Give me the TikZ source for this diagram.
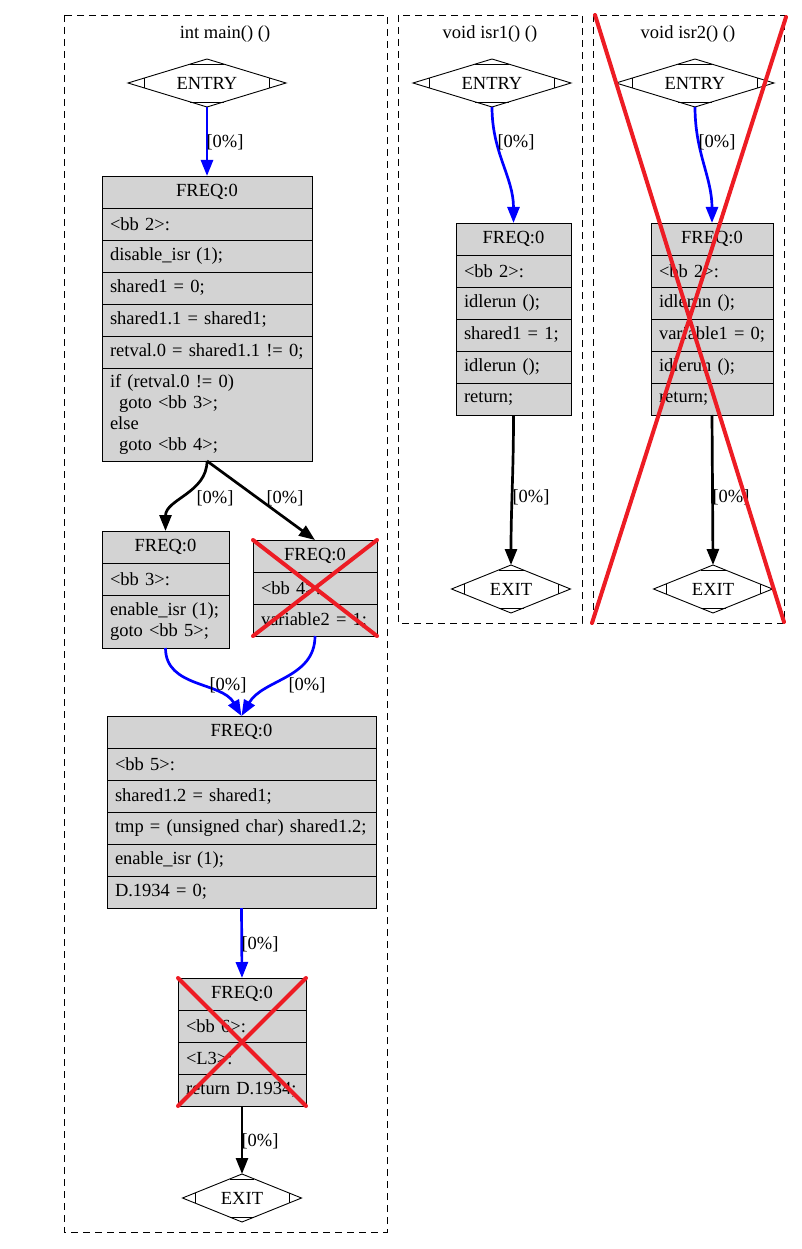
\documentclass[tikz,border=0pt]{standalone}
\usepackage{fontspec}
\setmainfont{Liberation Serif}
\usetikzlibrary{positioning,shapes.geometric,arrows.meta,calc}

\definecolor{lg}{RGB}{211,211,211}
\definecolor{bl}{RGB}{0,0,255}
\definecolor{rd}{RGB}{237,28,36}

\begin{document}
\begin{tikzpicture}[
        x=1pt, y=-1pt,
        font=\fontsize{18.5}{21.3}\selectfont,
        cluster/.style={draw, dash pattern=on 7pt off 5pt, line width=0.9pt},
        mdia/.style={diamond, aspect=3.3, draw, line width=0.9pt, fill=white, inner sep=0pt, outer sep=0pt, minimum width=#1, minimum height=48pt},
        head/.style={draw, line width=0.9pt, fill=lg, text width=#1, inner xsep=8pt, align=center, minimum height=32pt, outer sep=0pt},
        row/.style={draw, line width=0.9pt, fill=lg, text width=#1, inner xsep=8pt, align=left, minimum height=32pt, outer sep=0pt},
        bedge/.style={draw=bl, line width=2.7pt, -{Triangle[length=16pt,width=12pt]}},
        kedge/.style={draw=black, line width=2.7pt, -{Triangle[length=16pt,width=12pt]}},
        lbl/.style={inner sep=0pt},
        xout/.style={draw=rd, line width=4pt, line cap=round},
    ]
    \useasboundingbox (0,0) rectangle (801,1249);

    % clusters
    \draw[cluster] (64,15) rectangle (387,1232);
    \draw[cluster] (398,15) rectangle (582,623);
    \draw[cluster] (593,15) rectangle (784,623);
    \node (t1) at (225,34) {int main() ()};
    \node (t2) at (490,34) {void isr1() ()};
    \node (t3) at (688,34) {void isr2() ()};

    % int main
    \node[mdia=158pt] (e1) at (207,83) {ENTRY};

    \node[head=194pt] (b2a) at (207,192) {FREQ:0};
    \node[row=194pt, below=0pt of b2a] (b2b) {<bb 2>:};
    \node[row=194pt, below=0pt of b2b] (b2c) {disable\_isr (1);};
    \node[row=194pt, below=0pt of b2c] (b2d) {shared1 = 0;};
    \node[row=194pt, below=0pt of b2d] (b2e) {shared1.1 = shared1;};
    \node[row=194pt, below=0pt of b2e] (b2f) {retval.0 = shared1.1 != 0;};
    \node[row=194pt, below=0pt of b2f, minimum height=93pt] (b2g) {if (retval.0 != 0)\\\hspace*{9pt}goto <bb 3>;\\else\\\hspace*{9pt}goto <bb 4>;};

    \node[head=111pt] (b3a) at (165.5,547) {FREQ:0};
    \node[row=111pt, below=0pt of b3a] (b3b) {<bb 3>:};
    \node[row=111pt, below=0pt of b3b, minimum height=53pt] (b3c) {enable\_isr (1);\\goto <bb 5>;};

    \node[head=108pt] (b4a) at (315,556) {FREQ:0};
    \node[row=108pt, below=0pt of b4a] (b4b) {<bb 4>:};
    \node[row=108pt, below=0pt of b4b] (b4c) {variable2 = 1;};

    \node[head=253pt] (b5a) at (241.5,732) {FREQ:0};
    \node[row=253pt, below=0pt of b5a] (b5b) {<bb 5>:};
    \node[row=253pt, below=0pt of b5b] (b5c) {shared1.2 = shared1;};
    \node[row=253pt, below=0pt of b5c] (b5d) {tmp = (unsigned char) shared1.2;};
    \node[row=253pt, below=0pt of b5d] (b5e) {enable\_isr (1);};
    \node[row=253pt, below=0pt of b5e] (b5f) {D.1934 = 0;};

    \node[head=112pt] (b6a) at (242,994) {FREQ:0};
    \node[row=112pt, below=0pt of b6a] (b6b) {<bb 6>:};
    \node[row=112pt, below=0pt of b6b] (b6c) {<L3>:};
    \node[row=112pt, below=0pt of b6c] (b6d) {return D.1934;};

    \node[mdia=119pt] (x1) at (242,1198) {EXIT};

    % void isr1
    \node[mdia=158pt] (e2) at (492,83) {ENTRY};
    \node[head=99pt] (i1a) at (513.5,239) {FREQ:0};
    \node[row=99pt, below=0pt of i1a] (i1b) {<bb 2>:};
    \node[row=99pt, below=0pt of i1b] (i1c) {idlerun ();};
    \node[row=99pt, below=0pt of i1c] (i1d) {shared1 = 1;};
    \node[row=99pt, below=0pt of i1d] (i1e) {idlerun ();};
    \node[row=99pt, below=0pt of i1e] (i1f) {return;};
    \node[mdia=119pt] (x2) at (511,589) {EXIT};

    % void isr2
    \node[mdia=158pt] (e3) at (695,83) {ENTRY};
    \node[head=106pt] (i2a) at (712,239) {FREQ:0};
    \node[row=106pt, below=0pt of i2a] (i2b) {<bb 2>:};
    \node[row=106pt, below=0pt of i2b] (i2c) {idlerun ();};
    \node[row=106pt, below=0pt of i2c] (i2d) {variable1 = 0;};
    \node[row=106pt, below=0pt of i2d] (i2e) {idlerun ();};
    \node[row=106pt, below=0pt of i2e] (i2f) {return;};
    \node[mdia=119pt] (x3) at (713,589) {EXIT};

    % diamond marks
    \foreach \n in {e1,x1,e2,x2,e3,x3} {
        \draw[line width=0.9pt] ($(\n.west)!0.21!(\n.north)$) -- ($(\n.west)!0.21!(\n.south)$);
        \draw[line width=0.9pt] ($(\n.east)!0.21!(\n.north)$) -- ($(\n.east)!0.21!(\n.south)$);
        \draw[line width=0.9pt] ($(\n.north)!0.21!(\n.west)$) -- ($(\n.north)!0.21!(\n.east)$);
        \draw[line width=0.9pt] ($(\n.south)!0.21!(\n.west)$) -- ($(\n.south)!0.21!(\n.east)$);
    }

    % edges
    \path[bedge] (e1.south) -- (b2a.north);
    \path[kedge] (b2g.south) to[out=-90, in=90] (b3a.north);
    \path[kedge] (b2g.south) -- (b4a.north);
    \path[bedge] (b3c.south) to[out=-90, in=120] (b5a.north);
    \path[bedge] (b4c.south) to[out=-90, in=60] (b5a.north);
    \path[bedge] (b5f.south) -- (b6a.north);
    \path[kedge] (b6d.south) -- (x1.north);
    \path[bedge] (e2.south) to[out=-90, in=90] (i1a.north);
    \path[kedge] (i1f.south) to[out=-90, in=90] (x2.north);
    \path[bedge] (e3.south) to[out=-90, in=90] (i2a.north);
    \path[kedge] (i2f.south) -- (x3.north);

    \node[lbl] (l1) at (225,142) {[0\%]};
    \node[lbl] (l2) at (215,498) {[0\%]};
    \node[lbl] (l3) at (285,498) {[0\%]};
    \node[lbl] (l4) at (228,685) {[0\%]};
    \node[lbl] (l5) at (307,685) {[0\%]};
    \node[lbl] (l6) at (260,944) {[0\%]};
    \node[lbl] (l7) at (260,1141) {[0\%]};
    \node[lbl] (l8) at (516,142) {[0\%]};
    \node[lbl] (l9) at (531,497) {[0\%]};
    \node[lbl] (l10) at (717,142) {[0\%]};
    \node[lbl] (l11) at (731,497) {[0\%]};

    % crossed out
    \path[xout] (b4a.north west) -- (b4c.south east) (b4a.north east) -- (b4c.south west);
    \path[xout] (b6a.north west) -- (b6d.south east) (b6a.north east) -- (b6d.south west);
    \path[xout] (595,15) -- (784,622) (786,17) -- (592,623);
\end{tikzpicture}
\end{document}
